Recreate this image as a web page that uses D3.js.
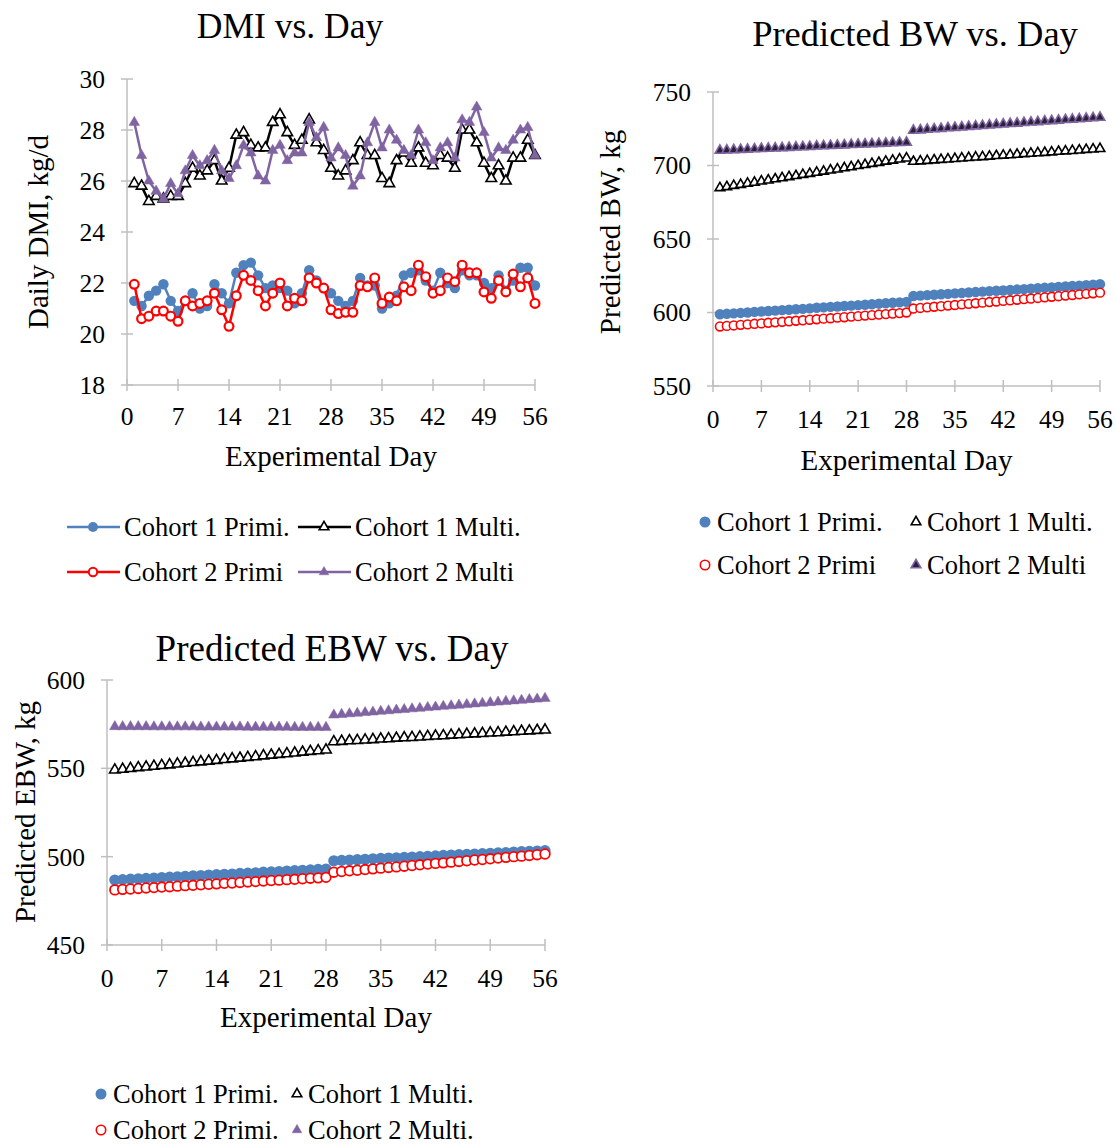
<!DOCTYPE html>
<html><head><meta charset="utf-8">
<script src="https://cdnjs.cloudflare.com/ajax/libs/d3/7.8.5/d3.min.js"></script>
<style>
html,body{margin:0;padding:0;background:#fff;}
svg{display:block;font-family:"Liberation Serif","Times New Roman",serif;}
</style></head>
<body>
<svg id="chart" width="1116" height="1146"></svg>
<script>
// ---------- DATA ----------
const days = d3.range(1, 57);
const xTicks = [0, 7, 14, 21, 28, 35, 42, 49, 56];
const seriesNames = ["Cohort 1 Primi.", "Cohort 1 Multi.", "Cohort 2 Primi", "Cohort 2 Multi"];
const ebwSeriesNames = ["Cohort 1 Primi.", "Cohort 1 Multi.", "Cohort 2 Primi.", "Cohort 2 Multi."];

// DMI (kg/d)
const dmiYTicks = [18, 20, 22, 24, 26, 28, 30];
const dmiC1Primi = [21.3,21.1,21.5,21.7,21.95,21.3,20.9,21.3,21.6,21.0,21.1,21.95,21.6,21.2,22.4,22.7,22.8,22.3,21.8,21.9,21.8,21.7,21.2,21.6,22.5,22.1,21.8,21.6,21.3,21.1,21.3,22.2,21.9,21.9,21.0,21.2,21.5,22.3,22.4,22.5,22.1,21.7,22.4,22.0,21.8,22.5,22.3,22.3,22.0,21.8,22.3,21.7,22.1,22.6,22.6,21.9];
const dmiC1Multi = [25.9,25.8,25.2,25.4,25.3,25.4,25.4,25.9,26.5,26.2,26.4,26.8,26.0,26.5,27.8,27.9,27.4,27.3,27.3,28.3,28.6,27.9,27.4,27.6,28.4,27.5,27.2,26.5,26.2,26.4,26.8,27.5,27.0,27.0,26.1,25.9,26.8,27.1,26.7,27.3,26.7,26.6,27.0,26.9,26.5,28.0,28.0,27.5,26.7,26.1,26.6,26.0,26.9,26.9,27.6,27.0];
const dmiC2Primi = [21.95,20.6,20.7,20.9,20.9,20.7,20.5,21.3,21.1,21.2,21.3,21.6,20.95,20.3,21.5,22.3,22.1,21.7,21.1,21.6,22.0,21.1,21.4,21.3,22.2,22.0,21.8,20.95,20.8,20.85,20.85,21.9,21.85,22.2,21.2,21.45,21.3,21.85,21.7,22.7,22.25,21.6,21.7,22.2,22.05,22.7,22.4,22.4,21.65,21.4,22.1,21.65,22.35,21.85,22.2,21.2];
const dmiC2Multi = [28.3,27.0,26.0,25.6,25.3,25.9,25.5,26.4,27.0,26.6,26.8,27.2,26.4,26.1,26.6,27.4,27.1,26.2,26.0,27.2,27.4,26.8,27.1,27.1,28.3,27.7,28.1,26.9,27.3,27.0,25.8,26.2,27.5,28.3,27.3,28.0,27.6,27.2,27.0,28.0,27.5,26.8,27.3,27.5,26.9,28.4,28.3,28.9,27.9,26.9,27.3,27.2,27.6,28.0,28.1,27.0];

// Predicted BW (kg)
const bwYTicks = [550, 600, 650, 700, 750];
const bwC1Primi = [598.8,599.1,599.4,599.7,600.0,600.4,600.7,601.0,601.3,601.6,601.9,602.2,602.5,602.8,603.2,603.5,603.8,604.1,604.4,604.7,605.0,605.3,605.6,606.0,606.3,606.6,606.9,607.2,611.2,611.5,611.8,612.1,612.4,612.7,613.0,613.3,613.6,613.9,614.2,614.5,614.8,615.0,615.3,615.6,615.9,616.2,616.5,616.8,617.1,617.4,617.7,618.0,618.3,618.6,618.9,619.2];
const bwC1Multi = [684.8,685.5,686.3,687.0,687.8,688.5,689.3,690.0,690.8,691.5,692.3,693.0,693.8,694.5,695.3,696.0,696.8,697.5,698.3,699.0,699.8,700.5,701.3,702.0,702.8,703.5,704.3,705.0,702.7,703.0,703.3,703.7,704.0,704.3,704.6,705.0,705.3,705.6,705.9,706.2,706.6,706.9,707.2,707.5,707.9,708.2,708.5,708.8,709.1,709.5,709.8,710.1,710.4,710.8,711.1,711.4];
const bwC2Primi = [590.5,590.9,591.2,591.6,591.9,592.3,592.6,593.0,593.3,593.7,594.0,594.4,594.7,595.1,595.4,595.8,596.1,596.5,596.8,597.2,597.5,597.9,598.2,598.6,598.9,599.3,599.6,600.0,602.7,603.1,603.5,603.9,604.3,604.7,605.1,605.5,605.9,606.3,606.7,607.1,607.5,607.9,608.3,608.7,609.1,609.5,609.9,610.3,610.7,611.1,611.5,611.9,612.3,612.7,613.1,613.5];
const bwC2Multi = [710.2,710.4,710.6,710.8,711.0,711.2,711.4,711.6,711.8,712.0,712.2,712.4,712.6,712.8,713.1,713.3,713.5,713.7,713.9,714.1,714.3,714.5,714.7,714.9,715.1,715.3,715.5,715.7,723.8,724.1,724.5,724.8,725.1,725.5,725.8,726.1,726.4,726.8,727.1,727.4,727.8,728.1,728.4,728.7,729.1,729.4,729.7,730.1,730.4,730.7,731.1,731.4,731.7,732.0,732.4,732.7];

// Predicted EBW (kg)
const ebwYTicks = [450, 500, 550, 600];
const ebwC1Primi = [486.8,487.0,487.3,487.5,487.7,487.9,488.2,488.4,488.6,488.9,489.1,489.3,489.6,489.8,490.0,490.2,490.5,490.7,490.9,491.2,491.4,491.6,491.9,492.1,492.3,492.5,492.8,493.0,497.7,497.9,498.1,498.3,498.5,498.8,499.0,499.2,499.4,499.6,499.8,500.0,500.2,500.4,500.7,500.9,501.1,501.3,501.5,501.7,501.9,502.1,502.3,502.6,502.8,503.0,503.2,503.4];
const ebwC1Multi = [549.1,549.5,549.9,550.4,550.8,551.2,551.6,552.0,552.5,552.9,553.3,553.7,554.1,554.5,555.0,555.4,555.8,556.2,556.6,557.1,557.5,557.9,558.3,558.7,559.2,559.6,560.0,560.4,565.1,565.3,565.6,565.8,566.1,566.3,566.6,566.8,567.1,567.3,567.5,567.8,568.0,568.3,568.5,568.8,569.0,569.3,569.5,569.7,570.0,570.2,570.5,570.7,571.0,571.2,571.5,571.7];
const ebwC2Primi = [481.2,481.5,481.7,482.0,482.3,482.5,482.8,483.0,483.3,483.6,483.8,484.1,484.4,484.6,484.9,485.1,485.4,485.7,485.9,486.2,486.5,486.7,487.0,487.2,487.5,487.8,488.0,488.3,491.2,491.6,492.0,492.3,492.7,493.1,493.5,493.9,494.2,494.6,495.0,495.4,495.8,496.2,496.5,496.9,497.3,497.7,498.1,498.4,498.8,499.2,499.6,500.0,500.3,500.7,501.1,501.5];
const ebwC2Multi = [573.6,573.6,573.6,573.6,573.6,573.5,573.5,573.5,573.5,573.5,573.5,573.4,573.4,573.4,573.4,573.4,573.4,573.3,573.3,573.3,573.3,573.3,573.3,573.2,573.2,573.2,573.2,573.2,580.2,580.5,580.9,581.2,581.6,581.9,582.3,582.6,583.0,583.3,583.7,584.0,584.4,584.7,585.1,585.4,585.8,586.1,586.5,586.8,587.2,587.5,587.9,588.2,588.5,588.9,589.2,589.6];

// ---------- STYLE ----------
const BLUE = "#4F81BD", RED = "#FF0000", PURPLE = "#8064A2", AXIS = "#BFBFBF";
const styles = [
  {type: "circle", fill: BLUE, stroke: BLUE, line: BLUE},
  {type: "tri", fill: "#fff", stroke: "#000", line: "#000"},
  {type: "circle", fill: "#fff", stroke: RED, line: RED},
  {type: "tri", fill: PURPLE, stroke: PURPLE, line: PURPLE}
];

const svg = d3.select("#chart");

function marker(g, st, cx, cy, sz, darkTri) {
  if (st.type === "circle") {
    const hollow = st.fill === "#fff";
    g.append("circle").attr("cx", cx).attr("cy", cy)
      .attr("r", hollow ? sz.r - 0.8 : sz.r)
      .attr("fill", st.fill).attr("stroke", st.stroke)
      .attr("stroke-width", hollow ? sz.sw : 0);
  } else {
    const isPurple = st.stroke === PURPLE;
    g.append("path")
      .attr("d", d3.symbol(d3.symbolTriangle, sz.tri)())
      .attr("transform", `translate(${cx},${cy})`)
      .attr("fill", isPurple ? (darkTri ? "#2a2238" : PURPLE) : "#fff")
      .attr("stroke", st.stroke)
      .attr("stroke-width", isPurple ? (darkTri ? 1.6 : 0.5) : 1.6);
  }
}

function drawChart(cfg) {
  const g = svg.append("g");
  const x = d3.scaleLinear().domain([0, 56]).range([cfg.x0, cfg.x1]);
  const y = d3.scaleLinear().domain(cfg.yDomain).range([cfg.yb, cfg.yt]);

  g.append("text").attr("x", cfg.titleX).attr("y", cfg.titleY)
    .attr("text-anchor", "middle").attr("font-size", cfg.titleSize).attr("fill", "#000")
    .text(cfg.title);

  g.append("line").attr("x1", cfg.x0).attr("x2", cfg.x0).attr("y1", cfg.yt).attr("y2", cfg.yb)
    .attr("stroke", AXIS).attr("stroke-width", 1.5);
  g.append("line").attr("x1", cfg.x0).attr("x2", cfg.x1).attr("y1", cfg.yb).attr("y2", cfg.yb)
    .attr("stroke", AXIS).attr("stroke-width", 1.5);

  cfg.yTicks.forEach(t => {
    g.append("line").attr("x1", cfg.x0 - 6).attr("x2", cfg.x0 + 6)
      .attr("y1", y(t)).attr("y2", y(t)).attr("stroke", AXIS).attr("stroke-width", 1.5);
    g.append("text").attr("x", cfg.x0 - cfg.yLabelGap).attr("y", y(t))
      .attr("dy", "0.35em").attr("text-anchor", "end").attr("font-size", cfg.tickSize)
      .text(t);
  });
  xTicks.forEach(t => {
    g.append("line").attr("x1", x(t)).attr("x2", x(t))
      .attr("y1", cfg.yb - 6).attr("y2", cfg.yb + 6).attr("stroke", AXIS).attr("stroke-width", 1.5);
    g.append("text").attr("x", x(t)).attr("y", cfg.yb + cfg.xLabelGap)
      .attr("text-anchor", "middle").attr("font-size", cfg.tickSize)
      .text(t);
  });

  g.append("text").attr("x", (cfg.x0 + cfg.x1) / 2 + cfg.xTitleShift).attr("y", cfg.xTitleY)
    .attr("text-anchor", "middle").attr("font-size", cfg.axisTitleSize).text("Experimental Day");
  g.append("text")
    .attr("transform", `translate(${cfg.yTitleX},${cfg.yTitleY}) rotate(-90)`)
    .attr("text-anchor", "middle").attr("font-size", cfg.axisTitleSize).text(cfg.yTitle);

  cfg.series.forEach((vals, i) => {
    const st = styles[i];
    const pts = days.map((d, k) => [x(d), y(vals[k])]);
    if (cfg.lines) {
      g.append("path").attr("d", d3.line()(pts)).attr("fill", "none")
        .attr("stroke", st.line).attr("stroke-width", 2.5).attr("stroke-linejoin", "round");
    }
    const mg = g.append("g");
    pts.forEach(p => marker(mg, st, p[0], p[1], cfg.mk, cfg.darkTri));
  });

  cfg.legend.forEach((L, i) => {
    const st = styles[i];
    if (cfg.lines) {
      g.append("line").attr("x1", L.mx - 26).attr("x2", L.mx + 27).attr("y1", L.y).attr("y2", L.y)
        .attr("stroke", st.line).attr("stroke-width", 2.5);
    }
    marker(g, st, L.mx, L.y, cfg.legMk, cfg.darkTri);
    g.append("text").attr("x", L.tx).attr("y", L.y).attr("dy", "0.35em")
      .attr("font-size", cfg.legendSize).text(cfg.names[i]);
  });
}

// DMI chart
drawChart({
  title: "DMI vs. Day", titleX: 290, titleY: 38, titleSize: 35.5,
  x0: 127, x1: 535, yt: 79, yb: 385, yDomain: [18, 30], yTicks: dmiYTicks,
  tickSize: 25.5, yLabelGap: 22, xLabelGap: 40, axisTitleSize: 29,
  xTitleY: 466, xTitleShift: 0, yTitleX: 48, yTitleY: 232, yTitle: "Daily DMI, kg/d",
  series: [dmiC1Primi, dmiC1Multi, dmiC2Primi, dmiC2Multi], lines: true, darkTri: false,
  mk: {r: 5.2, sw: 2.2, tri: 48}, legMk: {r: 5, sw: 2, tri: 40},
  names: seriesNames, legendSize: 26.5,
  legend: [{mx: 93, tx: 124, y: 527}, {mx: 324, tx: 355, y: 527},
           {mx: 93, tx: 124, y: 572}, {mx: 324, tx: 355, y: 572}]
});

// BW chart
drawChart({
  title: "Predicted BW vs. Day", titleX: 915, titleY: 46, titleSize: 36.5,
  x0: 713, x1: 1100, yt: 92, yb: 386, yDomain: [550, 750], yTicks: bwYTicks,
  tickSize: 25.5, yLabelGap: 22, xLabelGap: 42, axisTitleSize: 29,
  xTitleY: 470, xTitleShift: 0, yTitleX: 620, yTitleY: 232, yTitle: "Predicted BW, kg",
  series: [bwC1Primi, bwC1Multi, bwC2Primi, bwC2Multi], lines: false, darkTri: true,
  mk: {r: 5.2, sw: 1.6, tri: 40}, legMk: {r: 5.5, sw: 1.6, tri: 40},
  names: seriesNames, legendSize: 26.5,
  legend: [{mx: 705, tx: 717, y: 522}, {mx: 916, tx: 927, y: 522},
           {mx: 705, tx: 717, y: 565}, {mx: 916, tx: 927, y: 565}]
});

// EBW chart
drawChart({
  title: "Predicted EBW vs. Day", titleX: 332, titleY: 661, titleSize: 37,
  x0: 107, x1: 545, yt: 680, yb: 945, yDomain: [450, 600], yTicks: ebwYTicks,
  tickSize: 25.5, yLabelGap: 22, xLabelGap: 42, axisTitleSize: 29,
  xTitleY: 1027, xTitleShift: 0, yTitleX: 35, yTitleY: 812, yTitle: "Predicted EBW, kg",
  series: [ebwC1Primi, ebwC1Multi, ebwC2Primi, ebwC2Multi], lines: false, darkTri: false,
  mk: {r: 5.6, sw: 1.8, tri: 48}, legMk: {r: 5.5, sw: 1.6, tri: 40},
  names: ebwSeriesNames, legendSize: 26.5,
  legend: [{mx: 101, tx: 113, y: 1094}, {mx: 297, tx: 308, y: 1094},
           {mx: 101, tx: 113, y: 1130}, {mx: 297, tx: 308, y: 1130}]
});
</script>
</body></html>
